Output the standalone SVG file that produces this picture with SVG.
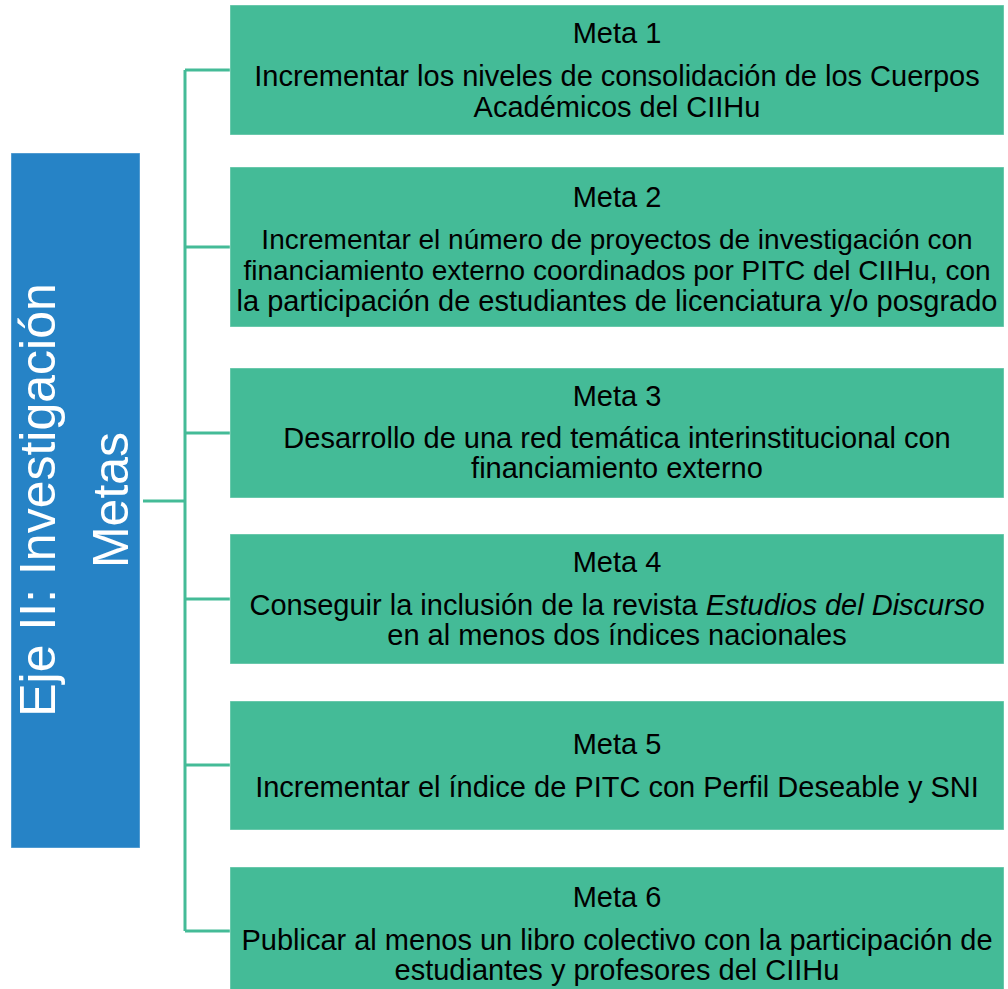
<svg xmlns="http://www.w3.org/2000/svg" width="1008" height="989" viewBox="0 0 1008 989">
<style>
.meta{fill:#44BB97;stroke:#ffffff;stroke-opacity:0.4;stroke-width:1}
.t{font-family:"Liberation Sans",Arial,sans-serif;font-size:29px;fill:#000;text-anchor:middle}
.s{font-size:28px}
.conn{stroke:#44BB97;stroke-width:3;fill:none}
.eje{font-family:"Liberation Sans",Arial,sans-serif;font-size:50px;fill:#fff;text-anchor:middle}
</style>
<rect width="1008" height="989" fill="#ffffff"/>
<g id="connectors">
<path class="conn" d="M185,70 V931 M185,70 H230 M185,247 H230 M185,433 H230 M185,599 H230 M185,765 H230 M185,931 H230 M143,501 H185"/>
</g>
<g id="eje">
<rect x="11" y="153" width="129" height="695" fill="#2683C6" stroke="#ffffff" stroke-opacity="0.4" stroke-width="1"/>
<text class="eje" transform="translate(55,500) rotate(-90)"><tspan x="0" y="0">Eje II: Investigación</tspan><tspan x="0" y="73">Metas</tspan></text>
</g>
<g id="meta1">
<rect class="meta" x="230" y="5" width="774" height="130"/>
<text class="t" x="617" y="43">Meta 1</text>
<text class="t" x="617" y="86">Incrementar los niveles de consolidación de los Cuerpos</text>
<text class="t" x="617" y="117">Académicos del CIIHu</text>
</g>
<g id="meta2">
<rect class="meta" x="230" y="167" width="774" height="160"/>
<text class="t" x="617" y="207">Meta 2</text>
<text class="t s" x="617" y="249">Incrementar el número de proyectos de investigación con</text>
<text class="t s" x="617" y="280">financiamiento externo coordinados por PITC del CIIHu, con</text>
<text class="t" x="617" y="311">la participación de estudiantes de licenciatura y/o posgrado</text>
</g>
<g id="meta3">
<rect class="meta" x="230" y="368" width="774" height="130"/>
<text class="t" x="617" y="406">Meta 3</text>
<text class="t" x="617" y="448">Desarrollo de una red temática interinstitucional con</text>
<text class="t" x="617" y="478">financiamiento externo</text>
</g>
<g id="meta4">
<rect class="meta" x="230" y="534" width="774" height="130"/>
<text class="t" x="617" y="572">Meta 4</text>
<text class="t" x="617" y="615">Conseguir la inclusión de la revista <tspan font-style="italic">Estudios del Discurso</tspan></text>
<text class="t" x="617" y="645">en al menos dos índices nacionales</text>
</g>
<g id="meta5">
<rect class="meta" x="230" y="701" width="774" height="129"/>
<text class="t" x="617" y="754">Meta 5</text>
<text class="t" x="617" y="797">Incrementar el índice de PITC con Perfil Deseable y SNI</text>
</g>
<g id="meta6">
<rect class="meta" x="230" y="867" width="774" height="130"/>
<text class="t" x="617" y="907">Meta 6</text>
<text class="t" x="617" y="950">Publicar al menos un libro colectivo con la participación de</text>
<text class="t" x="617" y="980">estudiantes y profesores del CIIHu</text>
</g>
</svg>
